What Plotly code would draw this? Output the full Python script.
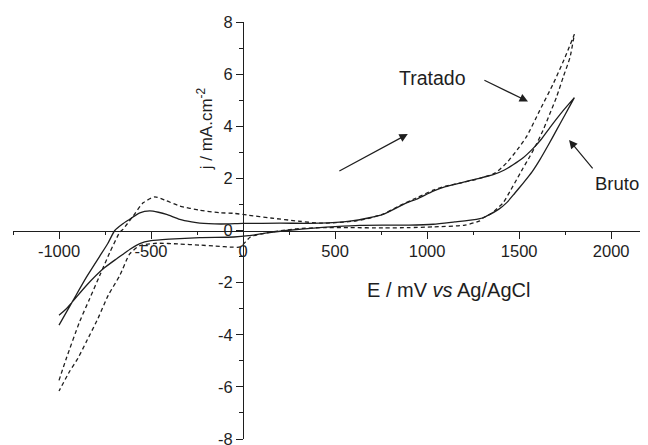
import plotly.graph_objects as go

# ---- Data ----
bruto_fwd_E = [-1000, -925, -851, -780, -735, -697, -655, -616, -561, -507, -460, -416, -344, -280, -235, -120, 0, 200, 417, 580, 680, 761, 888, 942, 1033, 1100, 1178, 1270, 1359, 1420, 1467, 1520, 1576, 1620, 1667, 1739, 1800]
bruto_fwd_j = [-3.63, -2.7, -1.79, -1.0, -0.5, 0.0, 0.25, 0.43, 0.68, 0.75, 0.70, 0.62, 0.43, 0.33, 0.28, 0.25, 0.27, 0.28, 0.28, 0.36, 0.48, 0.62, 1.06, 1.2, 1.51, 1.68, 1.82, 1.98, 2.14, 2.32, 2.52, 2.78, 3.15, 3.5, 3.95, 4.6, 5.1]
bruto_rev_E = [1800, 1750, 1703, 1660, 1612, 1570, 1522, 1475, 1431, 1390, 1341, 1300, 1268, 1150, 1033, 900, 761, 634, 500, 400, 236, 120, 30, -50, -235, -400, -500, -561, -610, -650, -688, -760, -850, -960, -1000]
bruto_rev_j = [5.1, 4.45, 3.85, 3.3, 2.71, 2.25, 1.82, 1.42, 1.06, 0.82, 0.62, 0.48, 0.43, 0.33, 0.24, 0.21, 0.21, 0.2, 0.15, 0.1, 0.0, -0.1, -0.2, -0.25, -0.27, -0.33, -0.39, -0.5, -0.7, -0.9, -1.09, -1.47, -2.1, -3.0, -3.25]

tratado_fwd_E = [-1000, -960, -888, -833, -779, -724, -670, -652, -597, -543, -480, -420, -344, -235, -127, -54, 27, 150, 300, 417, 500, 616, 700, 761, 850, 942, 1033, 1100, 1178, 1270, 1368, 1431, 1490, 1540, 1612, 1685, 1749, 1800]
tratado_fwd_j = [-5.75, -4.9, -3.5, -2.61, -1.73, -0.84, -0.07, 0.05, 0.56, 1.06, 1.29, 1.15, 0.94, 0.78, 0.68, 0.66, 0.59, 0.48, 0.36, 0.28, 0.3, 0.37, 0.5, 0.63, 0.95, 1.25, 1.55, 1.7, 1.82, 1.97, 2.2, 2.59, 3.1, 3.6, 4.61, 5.63, 6.64, 7.53]
tratado_rev_E = [1800, 1776, 1740, 1703, 1665, 1630, 1595, 1558, 1520, 1486, 1450, 1413, 1370, 1341, 1305, 1286, 1200, 1033, 900, 761, 580, 417, 300, 236, 120, 40, -15, -54, -150, -235, -344, -471, -561, -616, -670, -733, -788, -851, -897, -942, -1000]
tratado_rev_j = [7.53, 6.64, 5.9, 5.12, 4.45, 3.85, 3.33, 2.84, 2.38, 1.95, 1.5, 1.06, 0.78, 0.62, 0.49, 0.37, 0.2, 0.14, 0.11, 0.1, 0.11, 0.11, 0.07, 0.02, -0.1, -0.25, -0.63, -0.64, -0.6, -0.56, -0.52, -0.49, -0.58, -0.9, -1.73, -2.49, -3.37, -4.26, -4.9, -5.4, -6.16]

x_tickvals = [-1000, -500, 0, 500, 1000, 1500, 2000]
x_ticktext = ["-1000", "-500", "0", "500", "1000", "1500", "2000"]
y_tickvals = [-8, -6, -4, -2, 0, 2, 4, 6, 8]
y_ticktext = ["-8", "-6", "-4", "-2", "0", "2", "4", "6", "8"]

X_RANGE = [-1250, 2200]
Y_RANGE = [-8, 8]

FONT = "Liberation Sans, Arial, Helvetica, sans-serif"
INK = "#1e1e1e"

fig = go.Figure()
fig.add_trace(go.Scatter(x=bruto_fwd_E + bruto_rev_E, y=bruto_fwd_j + bruto_rev_j,
                         mode="lines", line=dict(color=INK, width=1.3, shape="spline", smoothing=0.6),
                         name="Bruto", showlegend=False))
fig.add_trace(go.Scatter(x=tratado_fwd_E + tratado_rev_E, y=tratado_fwd_j + tratado_rev_j,
                         mode="lines", line=dict(color=INK, width=1.3, dash="4px,3px", shape="spline", smoothing=0.6),
                         name="Tratado", showlegend=False))

yaxis_pos = (0 - X_RANGE[0]) / (X_RANGE[1] - X_RANGE[0])
xaxis_pos = (0 - Y_RANGE[0]) / (Y_RANGE[1] - Y_RANGE[0])

# the page body adds an 8 px offset; margins compensate for it
fig.update_layout(
    width=648, height=445,
    margin=dict(l=5, r=8, t=13, b=11),
    paper_bgcolor="white", plot_bgcolor="white",
    font=dict(family=FONT, color=INK, size=16.5),
    xaxis=dict(range=X_RANGE, anchor="free", position=xaxis_pos,
               showline=True, linecolor=INK, linewidth=1.2,
               showgrid=False, zeroline=False,
               ticks="outside", ticklen=7, tickwidth=1.2, tickcolor=INK,
               tickmode="array", tickvals=x_tickvals, ticktext=x_ticktext,
               ticklabelstandoff=-1,
               tickfont=dict(size=16.5, color=INK, family=FONT),
               minor=dict(tickmode="linear", tick0=0, dtick=250, ticks="outside",
                          ticklen=3.5, tickwidth=1.2, tickcolor=INK, showgrid=False)),
    yaxis=dict(range=Y_RANGE, anchor="free", position=yaxis_pos,
               showline=True, linecolor=INK, linewidth=1.2,
               showgrid=False, zeroline=False,
               ticks="outside", ticklen=7, tickwidth=1.2, tickcolor=INK,
               tickmode="array", tickvals=y_tickvals, ticktext=y_ticktext,
               tickfont=dict(size=16.5, color=INK, family=FONT),
               minor=dict(tickmode="linear", tick0=0, dtick=1, ticks="outside",
                          ticklen=3.5, tickwidth=1.2, tickcolor=INK, showgrid=False)),
)

# Axis titles
fig.add_annotation(x=1118, y=-2.3, xref="x", yref="y",
                   text="E / mV <i>vs</i> Ag/AgCl", showarrow=False,
                   font=dict(size=20, family=FONT, color=INK))
fig.add_annotation(x=-210, y=3.9, xref="x", yref="y",
                   text="j / mA.cm<sup>-2</sup>", textangle=-90, showarrow=False,
                   font=dict(size=17, family=FONT, color=INK))

# Labels with arrows
fig.add_annotation(x=1031, y=5.87, xref="x", yref="y", text="Tratado", showarrow=False,
                   font=dict(size=19.5, family=FONT, color=INK))
fig.add_annotation(x=1548, y=4.95, ax=1303, ay=5.79, xref="x", yref="y", axref="x", ayref="y",
                   text="", showarrow=True, arrowhead=2, arrowsize=1.4, arrowwidth=1.2, arrowcolor=INK)
fig.add_annotation(x=1905, y=1.80, xref="x", yref="y", xanchor="left", text="Bruto", showarrow=False,
                   borderpad=0, font=dict(size=18.5, family=FONT, color=INK))
fig.add_annotation(x=1771, y=3.47, ax=1906, ay=2.33, xref="x", yref="y", axref="x", ayref="y",
                   text="", showarrow=True, arrowhead=2, arrowsize=1.4, arrowwidth=1.2, arrowcolor=INK)
fig.add_annotation(x=895, y=3.70, ax=515, ay=2.25, xref="x", yref="y", axref="x", ayref="y",
                   text="", showarrow=True, arrowhead=2, arrowsize=1.4, arrowwidth=1.2, arrowcolor=INK)

fig.write_html("out.html")
